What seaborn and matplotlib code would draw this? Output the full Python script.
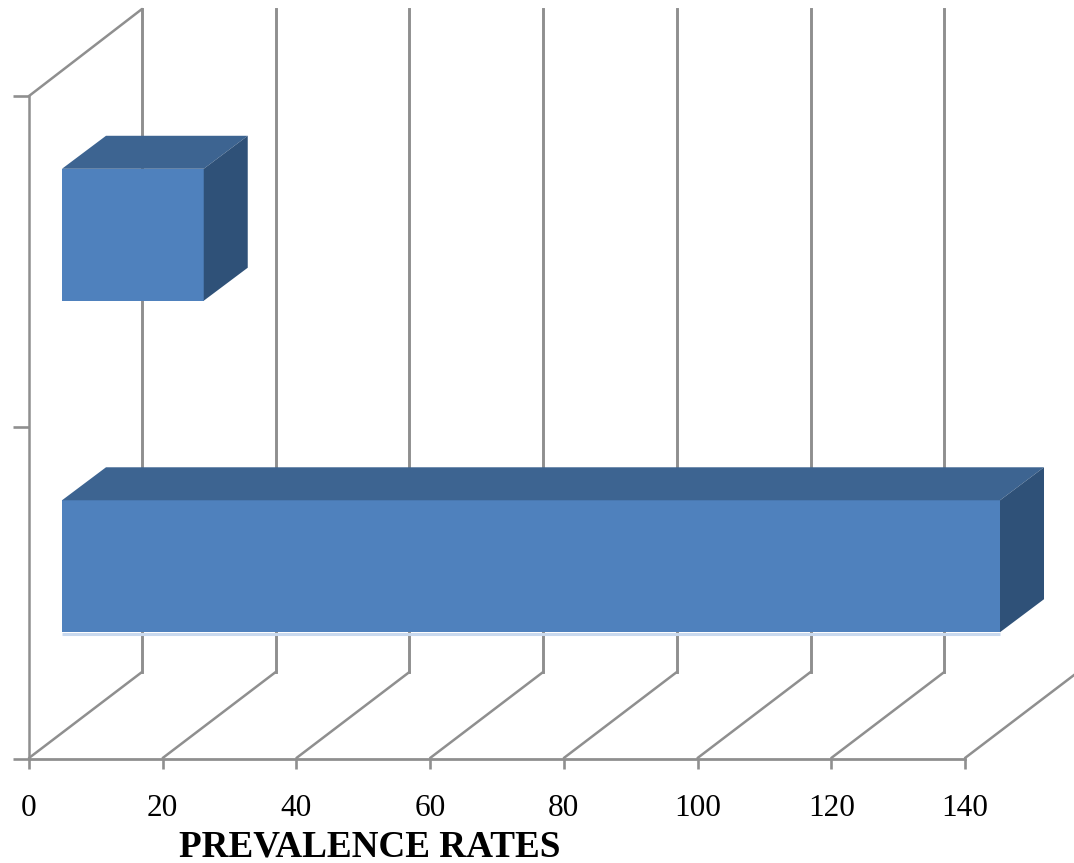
import matplotlib
matplotlib.use('Agg')
import matplotlib.pyplot as plt
import pandas as pd
import seaborn as sns
from matplotlib.patches import Polygon
from matplotlib.transforms import Affine2D, IdentityTransform

# Valores
grupos = ['Grupo A', 'Grupo B']
tasas = [21.2, 140.3]
ticks_x = [0, 20, 40, 60, 80, 100, 120, 140]
titulo_x = 'PREVALENCE RATES'

df = pd.DataFrame({'grupo': grupos, 'tasa': tasas})

sns.set_style('white')
plt.rcParams['font.family'] = ['Liberation Serif', 'DejaVu Serif']

W, H = 1074, 863
GRIS = '#8f8f8f'
FRENTE = '#4f81bd'
ARRIBA = '#3d6491'
LADO = '#2f5178'

fig = plt.figure(figsize=(W / 100, H / 100), dpi=100)
ax = fig.add_axes([29 / W, 1 - 759 / H, 936 / W, 663 / H])

sns.barplot(data=df, y='grupo', x='tasa', order=grupos, width=0.398,
            color=FRENTE, saturation=1, linewidth=0, ax=ax, zorder=4)
ax.set_xlim(0, 140)
ax.set_ylim(1.5, -0.5)

ax.set_xticks(ticks_x)
ax.set_yticks([-0.5, 0.5, 1.5])
ax.set_yticklabels([])
ax.tick_params(axis='x', bottom=True, length=7, width=1.9, color=GRIS, labelsize=22.5, pad=18, labelcolor='black')
ax.tick_params(axis='y', left=True, length=11.5, width=1.9, color=GRIS)
ax.set_xlabel(titulo_x, fontsize=26.7, fontweight='bold', color='black')
ax.xaxis.set_label_coords((370 - 29) / 936, -0.106)
ax.set_ylabel('')

sns.despine(ax=ax, top=True, right=True)
ax.spines['left'].set_color(GRIS)
ax.spines['left'].set_linewidth(1.8)
ax.spines['bottom'].set_color(GRIS)
ax.spines['bottom'].set_linewidth(2)
ax.spines['bottom'].set_zorder(2)


def a_px(x, y):
    return ax.transData.transform((x, y))


# Fondo de la caja 3D: lineas del suelo y de la pared trasera
fig.canvas.draw()
fondo_x, fondo_y = 113, 87
for t in ticks_x:
    x0, y0 = a_px(t, 1.5)
    ax.plot([x0, x0 + fondo_x], [y0 + 1, y0 + fondo_y], color=GRIS, lw=1.8,
            transform=IdentityTransform(), clip_on=False, zorder=1)
    x1, y1 = a_px(t, -0.5)
    ax.plot([x0 + fondo_x] * 2, [y0 + fondo_y, y1 + fondo_y], color=GRIS, lw=2.1,
            transform=IdentityTransform(), clip_on=False, zorder=1, solid_capstyle='projecting')
x0, y0 = a_px(0, -0.5)
ax.plot([x0, x0 + fondo_x], [y0, y0 + fondo_y], color=GRIS, lw=1.8,
        transform=IdentityTransform(), clip_on=False, zorder=1)

# Barras desplazadas hacia dentro, con cara superior y lateral
mover_x, mover_y = 33, 27
prof_x, prof_y = 44, 33
mover = Affine2D().translate(mover_x, mover_y)
for i, p in enumerate(ax.patches):
    izq, der = p.get_x(), p.get_x() + p.get_width()
    sup, inf = p.get_y(), p.get_y() + p.get_height()
    p.set_transform(ax.transData + mover)
    p.set_clip_on(False)
    xa, ya = a_px(izq, inf) + (mover_x, mover_y)
    xb, yb = a_px(der, sup) + (mover_x, mover_y)
    arriba = [(xa, yb), (xb, yb), (xb + prof_x, yb + prof_y), (xa + prof_x, yb + prof_y)]
    lado = [(xb, ya), (xb + prof_x, ya + prof_y), (xb + prof_x, yb + prof_y), (xb, yb)]
    ax.add_patch(Polygon(arriba, closed=True, fc=ARRIBA, ec='none',
                         transform=IdentityTransform(), clip_on=False, zorder=4))
    ax.add_patch(Polygon(lado, closed=True, fc=LADO, ec='none',
                         transform=IdentityTransform(), clip_on=False, zorder=4))
    if tasas[i] == max(tasas):
        ax.plot([xa, xb], [ya - 1.5, ya - 1.5], color='#c9d9ee', lw=2.2,
                transform=IdentityTransform(), clip_on=False, zorder=3, solid_capstyle='butt')

fig.savefig('out.png', dpi=100)
